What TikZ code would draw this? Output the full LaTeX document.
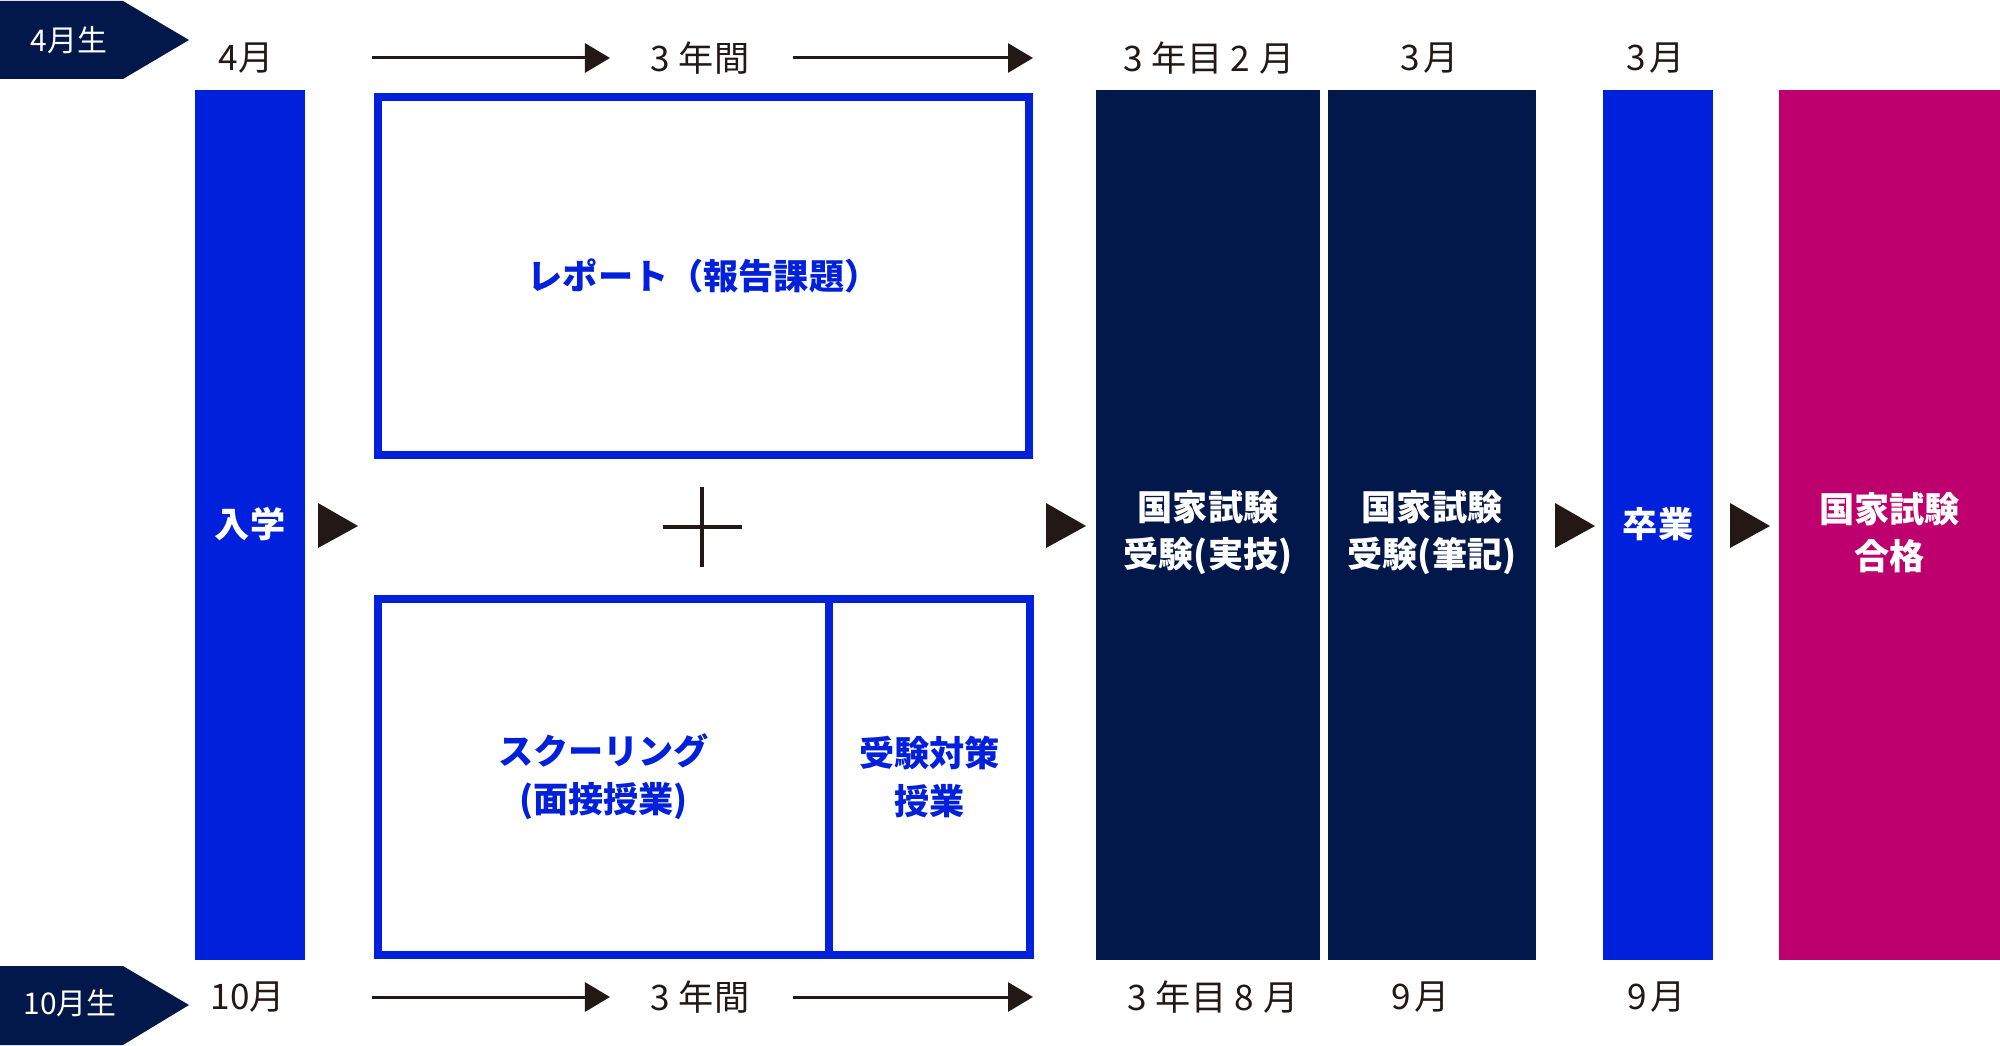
\documentclass[tikz,border=0pt]{standalone}
\usepackage{fontspec}
\setmainfont{Noto Sans CJK JP}
\usetikzlibrary{positioning, arrows.meta}
\definecolor{navy}{HTML}{02174A}
\definecolor{royal}{HTML}{0020DC}
\definecolor{rose}{HTML}{BE006E}
\definecolor{ink}{HTML}{231815}
\newcommand{\gp}{\kern0.25em}

\begin{document}
\begin{tikzpicture}[
    x=0.01cm, y=-0.01cm,
    bar/.style={rectangle, inner sep=0, minimum height=8.70cm},
    bartext/.style={text=white, font=\fontsize{10}{13.4}\selectfont\bfseries, align=center},
    frame/.style={rectangle, draw=royal, line width=2.42pt, inner sep=0, fill=white},
    boxtext/.style={text=royal, font=\fontsize{10}{13.6}\selectfont\bfseries, align=center},
    datelabel/.style={text=ink, font=\fontsize{10}{12}\selectfont, inner sep=0},
    taglabel/.style={text=white, font=\fontsize{8.5}{10}\selectfont, inner sep=0},
    arrow/.style={-{Triangle[length=0.25cm,width=0.29cm]}, line width=0.85pt, draw=ink}
  ]
    \useasboundingbox (0,0) rectangle (2000,1046);

    % tags
    \fill[navy] (0,1) -- (123,1) -- (189,40) -- (123,79) -- (0,79) -- cycle;
    \fill[navy] (0,966) -- (123,966) -- (189,1005) -- (123,1045) -- (0,1045) -- cycle;
    \node[taglabel] (tag4) at (69,40) {4月生};
    \node[taglabel] (tag10) at (70,1003) {10月生};

    % dates
    \node[datelabel] (d4) at (246,58) {4月};
    \node[datelabel] (span4) at (700,58) {3\gp 年間};
    \node[datelabel] (ex4) at (1209,58) {3\gp 年目\gp 2\gp 月};
    \node[datelabel] (wr4) at (1430,58) {3\kern0.1em 月};
    \node[datelabel] (gr4) at (1656,58) {3\kern0.1em 月};
    \node[datelabel] (d10) at (248,997) {10月};
    \node[datelabel] (span10) at (700,997) {3\gp 年間};
    \node[datelabel] (ex10) at (1213,997) {3\gp 年目\gp 8\gp 月};
    \node[datelabel] (wr10) at (1421,997) {9\kern0.1em 月};
    \node[datelabel] (gr10) at (1657,997) {9\kern0.1em 月};

    \coordinate (a1) at (372,58);  \coordinate (b1) at (610,58);
    \coordinate (a2) at (793,58);  \coordinate (b2) at (1033,58);
    \coordinate (a3) at (372,997); \coordinate (b3) at (610,997);
    \coordinate (a4) at (793,997); \coordinate (b4) at (1033,997);
    \draw[arrow] (a1) -- (b1);
    \draw[arrow] (a2) -- (b2);
    \draw[arrow] (a3) -- (b3);
    \draw[arrow] (a4) -- (b4);

    % columns
    \node[bar, fill=royal, minimum width=1.10cm] (nyugaku) at (250,525) {};
    \node[bar, fill=navy, minimum width=2.24cm] (jitsugi) at (1208,525) {};
    \node[bar, fill=navy, minimum width=2.085cm] (hikki) at (1432,525) {};
    \node[bar, fill=royal, minimum width=1.105cm] (sotsugyo) at (1658,525) {};
    \node[bar, fill=rose, minimum width=2.21cm] (gokaku) at (1889.5,525) {};
    \node[bartext] at (250,524) {入学};
    \node[bartext] at (1208,533) {国家試験\\受験(実技)};
    \node[bartext] at (1432,533) {国家試験\\受験(筆記)};
    \node[bartext] at (1658,524) {卒業};
    \node[bartext] at (1889.5,533) {国家試験\\合格};

    % study boxes
    \node[frame, minimum width=6.505cm, minimum height=3.575cm] (report) at (703.5,276) {};
    \node[boxtext] at (report.center) {レポート（報告課題）};
    \node[frame, minimum width=4.5075cm, minimum height=3.555cm] (schooling) at (603.6,777) {};
    \node[frame, minimum width=2.0075cm, minimum height=3.555cm] (taisaku) at (929.4,777) {};
    \node[boxtext] at (schooling.center) {スクーリング\\(面接授業)};
    \node[boxtext] at (taisaku.center) {受験対策\\授業};

    % plus
    \draw[ink, line width=1pt] (663,527) -- (742,527) (702,487) -- (702,567);

    % flow marks
    \foreach \x in {318,1046,1555,1730}
      \fill[ink] (\x,503) -- ++(40,23) -- (\x,548) -- cycle;
\end{tikzpicture}
\end{document}
